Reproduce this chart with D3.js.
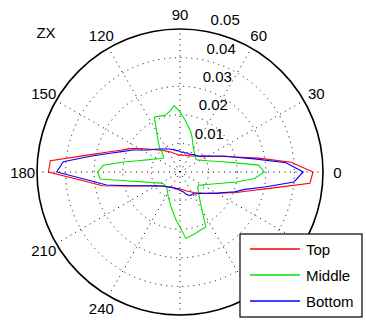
<!DOCTYPE html>
<html>
<head>
<meta charset="utf-8">
<script src="https://cdn.jsdelivr.net/npm/d3@7"></script>
<style>
  body { margin: 0; background: #fff; }
  text { font-family: "Liberation Sans", Arial, sans-serif; font-size: 15px; fill: #000; }
</style>
</head>
<body>
<svg id="chart"></svg>
<script>
// Angles (deg) at which each series was sampled
const angles = [0,5,10,15,20,25,30,35,40,45,50,55,60,65,70,75,80,85,90,95,100,105,110,115,
  120,125,130,135,140,145,150,155,160,165,170,175,180,185,190,195,200,205,210,215,220,225,230,235,
  240,245,250,255,260,265,270,275,280,285,290,295,300,305,310,315,320,325,330,335,340,345,350,355];

const topVals = [0.0465,0.0390,0.0280,0.0203,0.0158,0.0128,0.0108,0.0094,0.0084,0.0079,0.0073,0.0068,
  0.0065,0.0064,0.0061,0.0062,0.0058,0.0061,0.0060,0.0058,0.0064,0.0066,0.0071,0.0077,
  0.0083,0.0090,0.0098,0.0109,0.0122,0.0140,0.0164,0.0193,0.0222,0.0266,0.0335,0.0455,
  0.0460,0.0343,0.0276,0.0189,0.0143,0.0116,0.0098,0.0085,0.0076,0.0072,0.0066,0.0064,
  0.0060,0.0061,0.0059,0.0058,0.0060,0.0057,0.0060,0.0062,0.0063,0.0067,0.0071,0.0075,
  0.0081,0.0088,0.0096,0.0104,0.0116,0.0131,0.0150,0.0174,0.0209,0.0254,0.0325,0.0456];

const middleVals = [0.0295,0.0275,0.0189,0.0141,0.0113,0.0095,0.0083,0.0073,0.0072,0.0075,0.0080,0.0086,
  0.0094,0.0107,0.0125,0.0146,0.0163,0.0185,0.0210,0.0233,0.0214,0.0205,0.0208,0.0212,
  0.0164,0.0134,0.0111,0.0083,0.0076,0.0082,0.0092,0.0105,0.0124,0.0153,0.0201,0.0269,
  0.0288,0.0280,0.0181,0.0134,0.0107,0.0090,0.0078,0.0071,0.0070,0.0070,0.0072,0.0078,
  0.0086,0.0097,0.0108,0.0124,0.0142,0.0167,0.0192,0.0233,0.0226,0.0220,0.0215,0.0213,
  0.0154,0.0122,0.0103,0.0090,0.0081,0.0080,0.0090,0.0103,0.0122,0.0151,0.0200,0.0262];

const bottomVals = [0.0431,0.0372,0.0264,0.0200,0.0164,0.0132,0.0112,0.0098,0.0087,0.0082,0.0078,0.0075,
  0.0071,0.0070,0.0072,0.0068,0.0071,0.0069,0.0072,0.0075,0.0076,0.0081,0.0084,0.0089,
  0.0093,0.0098,0.0105,0.0114,0.0122,0.0134,0.0154,0.0182,0.0211,0.0253,0.0318,0.0410,
  0.0431,0.0324,0.0261,0.0185,0.0140,0.0114,0.0097,0.0085,0.0077,0.0072,0.0068,0.0065,
  0.0062,0.0061,0.0060,0.0061,0.0059,0.0062,0.0063,0.0068,0.0071,0.0080,0.0086,0.0090,
  0.0088,0.0094,0.0098,0.0106,0.0116,0.0129,0.0148,0.0170,0.0203,0.0235,0.0301,0.0400];

const seriesNames = ["Top", "Middle", "Bottom"];
const seriesColors = ["#ff0000", "#00e600", "#0000ff"];
const rTicks = [0.01, 0.02, 0.03, 0.04, 0.05];
const angleTicks = [0, 30, 60, 90, 120, 150, 180, 210, 240, 270, 300, 330];
const title = "ZX";

const width = 366, height = 320;
const cx = 180, cy = 172, R = 143;
const legBox = {x: 240, y: 234, w: 122, h: 83};

const svg = d3.select("#chart")
  .attr("width", width)
  .attr("height", height);

const r = d3.scaleLinear().domain([0, 0.05]).range([0, R]);
const rad = a => a * Math.PI / 180;

const g = svg.append("g").attr("transform", `translate(${cx},${cy})`);

// dotted spokes through the centre
g.selectAll(".spoke")
  .data(angleTicks.slice(0, 6))
  .enter()
  .append("line")
    .attr("x1", d => -R * Math.cos(rad(d)))
    .attr("y1", d => R * Math.sin(rad(d)))
    .attr("x2", d => R * Math.cos(rad(d)))
    .attr("y2", d => -R * Math.sin(rad(d)))
    .style("stroke", "#000")
    .style("stroke-width", 1)
    .style("stroke-dasharray", "1,4.5");

// dotted rings
g.selectAll(".ring")
  .data(rTicks.slice(0, -1))
  .enter()
  .append("circle")
    .attr("r", d => r(d))
    .style("fill", "none")
    .style("stroke", "#000")
    .style("stroke-width", 1)
    .style("stroke-dasharray", "1,4.5");

// outer ring
g.append("circle")
  .attr("r", r(0.05))
  .style("fill", "none")
  .style("stroke", "#000")
  .style("stroke-width", 1.6);

// radial tick labels, placed along 82 degrees like matlab's polar
g.selectAll(".rlab")
  .data(rTicks)
  .enter()
  .append("text")
    .attr("x", d => r(d + 0.0005) * Math.cos(rad(82)) + 10.5)
    .attr("y", d => -r(d + 0.0005) * Math.sin(rad(82)) - 3.5)
    .text(d => d.toFixed(2));

// angle labels (the ones under the legend or below the page are not visible)
const labPos = d => [cx + R * 1.1 * Math.cos(rad(d)), cy - R * 1.1 * Math.sin(rad(d))];
const visibleAngles = angleTicks.filter(d => {
  const [x, y] = labPos(d);
  const underLegend = x > legBox.x - 10 && y > legBox.y - 8;
  return y < height - 6 && !underLegend;
});
svg.selectAll(".alab")
  .data(visibleAngles)
  .enter()
  .append("text")
    .attr("x", d => labPos(d)[0])
    .attr("y", d => labPos(d)[1])
    .attr("text-anchor", "middle")
    .attr("dominant-baseline", "central")
    .text(d => d);

// series
const allVals = [topVals, middleVals, bottomVals];
const line = d3.lineRadial()
  .angle(d => rad(90 - d.a))
  .radius(d => r(d.v))
  .curve(d3.curveLinearClosed);

allVals.forEach((vals, i) => {
  const pts = angles.map((a, j) => ({a: a, v: vals[j]}));
  g.append("path")
    .attr("d", line(pts))
    .style("fill", "none")
    .style("stroke", seriesColors[i])
    .style("stroke-width", 1.1);
});

// title
svg.append("text")
  .attr("x", 46)
  .attr("y", 32)
  .attr("text-anchor", "middle")
  .attr("dominant-baseline", "central")
  .text(title);

// legend
const legend = svg.append("g").attr("transform", `translate(${legBox.x},${legBox.y})`);
legend.append("rect")
  .attr("width", legBox.w)
  .attr("height", legBox.h)
  .style("fill", "#fff")
  .style("stroke", "#000")
  .style("stroke-width", 1.2);

const legY = d3.scalePoint().domain(seriesNames).range([15, 67]);
seriesNames.forEach((name, i) => {
  legend.append("line")
    .attr("x1", 10).attr("x2", 60)
    .attr("y1", legY(name)).attr("y2", legY(name))
    .style("stroke", seriesColors[i])
    .style("stroke-width", 1.3);
  legend.append("text")
    .attr("x", 66)
    .attr("y", legY(name))
    .attr("dominant-baseline", "central")
    .text(name);
});
</script>
</body>
</html>
